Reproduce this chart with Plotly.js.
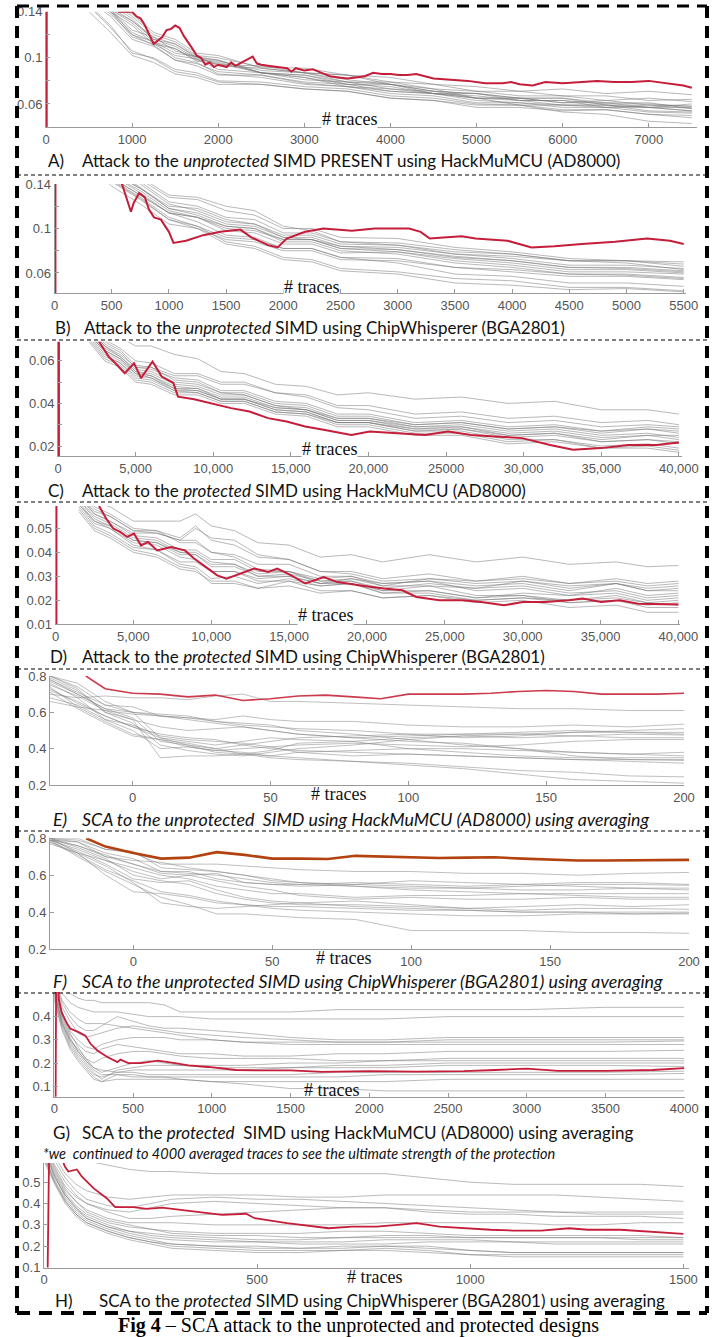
<!DOCTYPE html>
<html><head><meta charset="utf-8">
<script src="https://cdn.plot.ly/plotly-3.0.1.min.js"></script>
<style>html,body{margin:0;padding:0;background:#fff}#chart{width:718px;height:1337px}</style>
</head><body><div id="chart"></div>
<script>
// ---------------- DATA ----------------
// Panel A
const xA = [500,750,1000,1250,1500,1750,2000,2500,3000,3500,4000,4500,5000,5500,6000,6500,7000,7500];
const grayA = [
 [.150,.136,.116,.110,.098,.095,.088,.085,.079,.077,.071,.069,.065,.065,.061,.063,.059,.058],
 [.160,.140,.128,.112,.108,.098,.096,.087,.085,.079,.079,.073,.071,.067,.067,.063,.065,.062],
 [.152,.138,.120,.111,.098,.093,.085,.085,.078,.075,.069,.067,.061,.061,.057,.057,.053,.052],
 [.165,.146,.134,.116,.110,.099,.097,.089,.087,.081,.077,.071,.069,.065,.065,.061,.061,.056],
 [.145,.126,.106,.099,.088,.085,.079,.077,.073,.071,.065,.063,.059,.059,.055,.055,.051,.050],
 [.170,.148,.136,.120,.114,.102,.100,.092,.091,.085,.083,.077,.075,.071,.073,.069,.071,.068],
 [.155,.140,.118,.112,.102,.099,.090,.087,.081,.079,.073,.071,.065,.065,.061,.061,.057,.057],
 [.140,.122,.102,.096,.086,.083,.077,.077,.073,.071,.065,.063,.057,.057,.054,.055,.051,.048],
 [.162,.144,.132,.116,.112,.100,.098,.087,.083,.075,.073,.069,.069,.065,.065,.059,.057,.054],
 [.158,.142,.124,.118,.106,.101,.093,.091,.087,.085,.079,.077,.071,.071,.067,.067,.063,.064],
 [.146,.128,.104,.100,.090,.087,.080,.079,.075,.073,.067,.065,.060,.059,.053,.051,.045,.043],
 [.168,.146,.138,.122,.116,.104,.102,.091,.087,.079,.077,.071,.069,.063,.063,.057,.057,.054],
 [.152,.140,.122,.114,.100,.096,.086,.083,.077,.075,.071,.069,.063,.061,.059,.059,.054,.053],
 [.160,.142,.130,.114,.108,.097,.095,.087,.085,.077,.075,.069,.065,.059,.059,.057,.059,.056],
 [.156,.142,.120,.114,.104,.101,.094,.093,.087,.085,.077,.073,.065,.063,.059,.059,.057,.060],
 [.163,.142,.132,.118,.112,.101,.098,.087,.083,.077,.077,.069,.067,.063,.063,.060,.060,.058]
];
const redAx = [8,9,850,1000,1050,1100,1150,1200,1250,1300,1350,1400,1450,1500,1550,1600,1650,1700,1750,1800,1850,1900,1950,2000,2100,2150,2200,2300,2400,2450,2500,2600,2700,2800,2850,2900,3000,3100,3200,3300,3400,3500,3600,3700,3800,3900,4000,4100,4200,4300,4400,4500,4700,4900,5100,5300,5400,5500,5650,5800,6000,6200,6400,6600,6800,7000,7200,7400,7500];
const redAy = [0,0.5,0.14,0.14,0.136,0.134,0.128,0.12,0.112,0.115,0.118,0.124,0.125,0.128,0.126,0.119,0.114,0.108,0.102,0.1,0.094,0.096,0.092,0.094,0.092,0.096,0.093,0.097,0.101,0.095,0.094,0.093,0.092,0.091,0.088,0.091,0.089,0.09,0.087,0.084,0.083,0.082,0.083,0.084,0.087,0.086,0.086,0.085,0.085,0.086,0.084,0.082,0.081,0.08,0.078,0.078,0.079,0.077,0.076,0.079,0.078,0.079,0.08,0.079,0.079,0.08,0.078,0.076,0.074];

// Panel B
const xB = [250,500,750,1000,1250,1500,1750,2000,2250,2500,3000,3500,4000,4500,5000,5500];
const grayB = [
 [.170,.146,.130,.114,.110,.100,.098,.090,.090,.084,.083,.077,.075,.071,.071,.068],
 [.175,.153,.137,.118,.114,.104,.102,.092,.092,.084,.081,.074,.071,.065,.065,.062],
 [.165,.138,.122,.104,.100,.090,.088,.080,.080,.072,.071,.065,.063,.059,.059,.056],
 [.180,.158,.144,.128,.126,.116,.112,.100,.100,.092,.091,.083,.079,.073,.071,.066],
 [.172,.148,.132,.114,.106,.094,.092,.082,.082,.074,.069,.059,.057,.051,.051,.048],
 [.168,.144,.128,.110,.102,.088,.084,.074,.072,.064,.061,.055,.053,.047,.047,.044],
 [.178,.156,.142,.124,.120,.110,.108,.096,.096,.088,.087,.081,.077,.071,.071,.070],
 [.171,.148,.134,.116,.110,.098,.096,.086,.086,.078,.079,.073,.069,.063,.063,.060],
 [.166,.142,.126,.108,.102,.092,.090,.082,.082,.074,.073,.065,.061,.057,.057,.054],
 [.176,.154,.140,.122,.116,.106,.104,.094,.094,.086,.085,.077,.073,.067,.067,.064],
 [.174,.150,.136,.120,.118,.108,.104,.092,.090,.082,.079,.071,.067,.061,.061,.059],
 [.169,.145,.130,.114,.110,.102,.100,.088,.088,.080,.077,.069,.065,.059,.058,.055],
 [.182,.160,.146,.130,.128,.120,.116,.102,.098,.088,.085,.079,.077,.071,.069,.063],
 [.167,.143,.127,.108,.100,.086,.082,.072,.070,.062,.059,.051,.049,.045,.046,.043],
 [.173,.151,.136,.118,.112,.102,.100,.090,.090,.082,.081,.075,.071,.065,.064,.061]
];
const redBx = [8,9,590,668,692,740,790,826,870,930,1000,1040,1150,1300,1450,1624,1720,1867,1950,2030,2190,2350,2600,2800,2957,3100,3200,3280,3400,3560,3680,3960,4170,4370,4610,4900,5180,5380,5500];
const redBy = [0,0.5,0.14,0.115,0.123,0.132,0.128,0.117,0.11,0.108,0.097,0.087,0.089,0.094,0.097,0.099,0.092,0.085,0.083,0.091,0.097,0.1,0.098,0.1,0.1,0.1,0.097,0.091,0.092,0.093,0.091,0.089,0.083,0.084,0.086,0.088,0.091,0.089,0.086];

// Panel C
const xC = [2000,3000,4000,5000,6000,7500,9000,10500,12000,14000,16000,18000,20000,23000,26000,29000,32000,35000,38000,40000];
const grayC = [
 [.080,.073,.071,.067,.067,.063,.061,.055,.054,.049,.048,.044,.045,.042,.043,.040,.041,.037,.037,.035],
 [.075,.067,.063,.057,.057,.053,.053,.049,.049,.045,.044,.039,.039,.035,.036,.033,.034,.031,.032,.030],
 [.074,.065,.061,.055,.054,.049,.048,.044,.044,.039,.038,.033,.033,.029,.030,.027,.028,.025,.026,.024],
 [.072,.063,.059,.053,.052,.047,.046,.042,.042,.037,.036,.031,.031,.027,.028,.025,.026,.022,.023,.021],
 [.078,.069,.065,.058,.057,.051,.050,.045,.045,.040,.039,.034,.034,.030,.031,.028,.029,.026,.028,.026],
 [.070,.061,.058,.051,.050,.045,.045,.041,.041,.036,.035,.030,.030,.026,.026,.022,.023,.020,.021,.019],
 [.076,.067,.062,.056,.055,.050,.049,.045,.044,.039,.037,.032,.032,.029,.029,.026,.027,.024,.025,.023],
 [.073,.064,.060,.054,.053,.048,.047,.042,.042,.038,.037,.033,.033,.030,.031,.028,.029,.027,.029,.028],
 [.071,.062,.059,.052,.051,.046,.046,.042,.042,.037,.036,.031,.031,.027,.027,.023,.023,.019,.019,.017],
 [.077,.068,.064,.057,.056,.052,.051,.046,.046,.041,.040,.035,.035,.031,.032,.029,.030,.027,.028,.027],
 [.074,.066,.062,.055,.053,.047,.047,.043,.043,.038,.037,.032,.032,.028,.028,.024,.025,.022,.023,.022],
 [.072,.065,.061,.054,.052,.046,.045,.041,.041,.036,.035,.031,.031,.028,.029,.025,.026,.023,.025,.025],
 [.079,.070,.066,.060,.059,.054,.054,.050,.050,.045,.043,.038,.037,.033,.034,.031,.032,.029,.030,.029],
 [.069,.060,.057,.050,.049,.044,.044,.040,.040,.035,.034,.029,.029,.025,.025,.021,.022,.019,.020,.018]
];
const redCx = [60,61,2650,3260,3700,4300,4900,5350,6090,6680,7430,7730,8770,9960,11150,12340,13530,14730,15920,17110,18900,20080,21850,23650,25130,26610,28420,29900,31700,33180,34970,36760,38540,40000];
const redCy = [0,0.2,0.069,0.062,0.0589,0.0542,0.0589,0.0519,0.0597,0.0526,0.0496,0.0432,0.042,0.040,0.0378,0.0362,0.0331,0.0315,0.0292,0.0276,0.0252,0.0268,0.026,0.0252,0.0268,0.0252,0.0244,0.0237,0.0205,0.0182,0.019,0.0205,0.0205,0.0216];

// Panel D
const xD = [1500,2500,3500,5000,6500,8000,9000,10000,11500,13000,15000,17000,19000,21000,24000,27000,30000,33000,36000,38000,40000];
const grayD = [
 [.068,.061,.059,.053,.053,.053,.056,.051,.049,.044,.043,.038,.039,.036,.039,.036,.038,.035,.036,.034,.0345],
 [.064,.057,.055,.049,.048,.045,.050,.046,.045,.039,.037,.032,.031,.028,.029,.027,.028,.025,.027,.024,.025],
 [.062,.055,.052,.046,.045,.040,.039,.034,.034,.030,.031,.028,.029,.026,.029,.028,.030,.027,.029,.027,.028],
 [.060,.052,.050,.044,.043,.038,.037,.032,.032,.029,.030,.027,.028,.025,.027,.025,.026,.023,.024,.021,.022],
 [.058,.050,.047,.041,.039,.034,.033,.027,.027,.025,.028,.026,.027,.024,.026,.025,.028,.026,.027,.024,.024],
 [.066,.059,.056,.050,.049,.044,.044,.040,.039,.035,.035,.030,.030,.026,.026,.022,.022,.019,.020,.017,.017],
 [.061,.053,.050,.043,.041,.035,.034,.029,.030,.027,.029,.026,.027,.023,.023,.020,.021,.019,.020,.018,.019],
 [.063,.056,.053,.047,.046,.041,.041,.037,.037,.032,.032,.028,.028,.024,.024,.021,.023,.022,.025,.022,.023],
 [.059,.051,.048,.042,.041,.036,.036,.032,.032,.028,.028,.024,.024,.021,.022,.019,.020,.017,.018,.015,.015],
 [.065,.058,.055,.049,.049,.046,.051,.045,.043,.038,.037,.032,.032,.029,.031,.028,.029,.027,.028,.026,.027],
 [.062,.054,.051,.045,.044,.039,.039,.035,.035,.031,.032,.029,.030,.027,.028,.026,.027,.024,.027,.025,.026],
 [.057,.049,.046,.040,.038,.033,.032,.028,.028,.025,.026,.023,.024,.021,.022,.020,.021,.020,.022,.019,.020],
 [.060,.053,.051,.045,.044,.040,.040,.036,.035,.030,.030,.027,.029,.027,.028,.024,.025,.022,.023,.020,.021],
 [.064,.056,.053,.048,.048,.045,.045,.040,.038,.033,.032,.027,.027,.023,.024,.021,.022,.020,.021,.019,.018]
];
const redDx = [60,61,2820,3260,3710,4150,4600,5040,5490,5940,6530,7420,8310,8900,9800,10380,10980,11880,12760,13660,14240,15140,16040,17220,18100,19600,21080,22270,23170,24650,26130,27320,28800,30000,31460,32950,33840,35040,36230,37420,38900,40000];
const redDy = [0,0.2,0.059,0.054,0.0499,0.0485,0.0464,0.0478,0.0429,0.0443,0.0408,0.0422,0.0408,0.0374,0.0332,0.0304,0.029,0.031,0.0332,0.0318,0.0332,0.0304,0.027,0.0297,0.0276,0.0262,0.0249,0.0242,0.0214,0.02,0.02,0.0193,0.0179,0.0193,0.0193,0.02,0.0207,0.0193,0.02,0.0186,0.0186,0.0183];

// Panel E
const xE = [-30,-20,-10,0,10,20,30,40,50,60,80,100,120,140,160,180,200];
const grayE = [
 [.70,.68,.69,.68,.68,.67,.69,.70,.66,.66,.65,.64,.63,.62,.62,.61,.61],
 [.80,.74,.64,.63,.58,.57,.56,.58,.56,.55,.55,.53,.52,.52,.53,.52,.535],
 [.78,.70,.62,.60,.59,.58,.55,.53,.52,.51,.50,.48,.46,.47,.49,.50,.51],
 [.75,.69,.61,.56,.52,.50,.51,.52,.50,.48,.46,.47,.48,.49,.50,.49,.49],
 [.80,.76,.66,.60,.46,.42,.40,.42,.44,.46,.47,.48,.48,.48,.49,.49,.48],
 [.72,.66,.58,.52,.46,.44,.42,.44,.46,.45,.44,.46,.47,.46,.47,.48,.475],
 [.79,.72,.60,.54,.42,.39,.37,.36,.38,.40,.42,.45,.47,.48,.47,.46,.46],
 [.76,.68,.56,.50,.40,.41,.39,.40,.41,.42,.43,.42,.41,.42,.44,.45,.45],
 [.74,.63,.55,.48,.45,.43,.40,.37,.36,.38,.39,.40,.40,.39,.38,.37,.38],
 [.77,.70,.62,.57,.44,.42,.38,.37,.39,.43,.44,.40,.38,.36,.35,.35,.35],
 [.73,.65,.58,.52,.48,.46,.45,.42,.40,.39,.38,.37,.36,.35,.34,.34,.335],
 [.68,.64,.56,.53,.47,.45,.44,.43,.41,.38,.36,.37,.36,.35,.34,.33,.32],
 [.80,.73,.60,.56,.35,.36,.36,.37,.35,.34,.33,.32,.30,.28,.27,.25,.245],
 [.71,.62,.54,.47,.45,.41,.39,.38,.36,.35,.33,.31,.29,.26,.23,.22,.21],
 [.66,.63,.61,.59,.58,.57,.55,.54,.53,.50,.48,.45,.42,.40,.38,.37,.36],
 [.78,.71,.64,.60,.58,.56,.54,.52,.50,.48,.46,.44,.43,.40,.36,.34,.34]
];
const redEx = [-17,-10,0,10,20,30,40,50,60,70,80,90,100,110,120,130,140,150,160,170,180,190,200];
const redEy = [.80,.73,.705,.70,.685,.695,.665,.675,.69,.695,.685,.675,.70,.70,.70,.705,.715,.72,.715,.70,.70,.70,.705];

// Panel F
const xF = [-30,-20,-10,0,10,20,30,40,50,60,80,100,120,140,160,180,200];
const grayF = [
 [.80,.79,.74,.72,.66,.66,.66,.65,.64,.63,.62,.62,.61,.61,.60,.61,.615],
 [.80,.80,.74,.73,.64,.63,.62,.60,.57,.56,.55,.57,.56,.55,.56,.56,.55],
 [.79,.78,.72,.69,.62,.61,.60,.58,.56,.55,.54,.53,.53,.54,.55,.55,.545],
 [.80,.76,.70,.66,.61,.60,.61,.56,.55,.54,.55,.54,.53,.52,.52,.53,.52],
 [.79,.74,.68,.64,.60,.58,.54,.52,.50,.50,.48,.49,.49,.50,.50,.50,.50],
 [.78,.72,.68,.62,.58,.60,.57,.54,.52,.49,.47,.48,.47,.47,.48,.47,.47],
 [.80,.75,.69,.60,.57,.55,.50,.47,.45,.44,.44,.43,.42,.43,.44,.43,.44],
 [.79,.73,.66,.58,.56,.57,.52,.48,.46,.45,.46,.44,.42,.41,.42,.42,.415],
 [.80,.72,.65,.56,.45,.43,.42,.43,.44,.45,.43,.42,.41,.40,.40,.40,.40],
 [.78,.71,.63,.57,.51,.49,.46,.44,.43,.43,.42,.41,.41,.40,.40,.39,.395],
 [.77,.72,.60,.51,.50,.48,.45,.44,.42,.41,.40,.39,.38,.38,.39,.39,.39],
 [.79,.70,.62,.55,.48,.44,.39,.39,.38,.37,.36,.30,.30,.30,.29,.29,.285],
 [.80,.78,.70,.68,.67,.64,.62,.60,.58,.56,.54,.52,.51,.50,.49,.48,.48],
 [.79,.76,.71,.66,.62,.62,.58,.56,.55,.55,.56,.55,.54,.55,.54,.53,.53]
];
const redFx = [-17,-10,0,10,20,30,40,50,60,70,80,90,100,110,120,130,140,150,160,170,180,190,200];
const redFy = [.80,.755,.72,.69,.695,.725,.71,.69,.69,.688,.705,.70,.695,.693,.695,.697,.69,.685,.68,.68,.682,.682,.683];

// Panel G
const xG = [0,50,100,150,200,250,300,400,500,600,700,800,1000,1200,1500,1800,2100,2500,3000,3500,4000];
const grayG = [
 [.60,.52,.50,.48,.47,.47,.46,.46,.46,.46,.45,.42,.42,.42,.42,.43,.43,.43,.43,.44,.44],
 [.58,.50,.46,.44,.43,.42,.42,.42,.41,.40,.40,.40,.39,.39,.39,.39,.39,.40,.40,.40,.40],
 [.55,.46,.40,.36,.34,.34,.36,.40,.38,.36,.35,.35,.34,.33,.31,.30,.30,.31,.31,.31,.31],
 [.56,.44,.38,.33,.31,.32,.33,.35,.36,.35,.34,.33,.32,.31,.30,.29,.29,.30,.30,.30,.30],
 [.54,.42,.34,.30,.27,.26,.28,.30,.31,.31,.31,.30,.30,.29,.29,.29,.29,.29,.29,.29,.295],
 [.52,.40,.32,.28,.25,.24,.26,.28,.27,.26,.25,.24,.24,.23,.23,.24,.24,.25,.25,.25,.255],
 [.50,.38,.30,.26,.22,.20,.22,.24,.25,.25,.24,.23,.22,.22,.22,.21,.21,.22,.22,.22,.22],
 [.53,.41,.33,.27,.22,.18,.16,.18,.20,.21,.20,.19,.19,.19,.20,.20,.21,.21,.21,.21,.21],
 [.51,.37,.29,.24,.20,.16,.13,.17,.18,.19,.19,.19,.18,.18,.18,.19,.19,.20,.20,.20,.20],
 [.49,.36,.28,.23,.19,.15,.14,.16,.17,.17,.17,.17,.17,.17,.18,.18,.18,.19,.19,.19,.185],
 [.52,.39,.31,.25,.21,.18,.17,.16,.16,.15,.15,.15,.15,.15,.15,.16,.16,.16,.16,.16,.165],
 [.48,.35,.27,.22,.18,.14,.12,.15,.15,.14,.14,.14,.14,.14,.14,.14,.15,.15,.15,.15,.155],
 [.50,.37,.30,.25,.21,.17,.15,.15,.14,.14,.14,.13,.12,.12,.12,.12,.12,.13,.13,.13,.13],
 [.47,.34,.26,.21,.17,.13,.12,.13,.13,.13,.13,.13,.12,.11,.09,.09,.08,.08,.08,.08,.08],
 [.57,.47,.42,.39,.37,.37,.37,.36,.35,.34,.33,.32,.30,.29,.28,.28,.28,.28,.28,.28,.28]
];
const redGx = [8,12,30,48,80,101,154,198,230,273,337,401,420,470,551,658,766,852,980,1152,1300,1500,1700,2000,2300,2600,2800,3000,3200,3500,3800,4000];
const redGy = [0.0,0.6,0.47,0.416,0.371,0.349,0.333,0.318,0.283,0.254,0.226,0.204,0.215,0.2,0.2,0.21,0.2,0.19,0.183,0.17,0.168,0.168,0.162,0.165,0.163,0.165,0.17,0.176,0.166,0.166,0.17,0.178];

// Panel H
const xH = [0,25,50,75,100,150,200,250,300,400,500,600,700,800,900,1000,1100,1200,1300,1400,1500];
const grayH = [
 [.80,.72,.66,.62,.60,.58,.56,.55,.55,.54,.54,.54,.54,.54,.52,.50,.49,.49,.49,.49,.48],
 [.72,.62,.54,.49,.46,.43,.42,.43,.44,.44,.44,.43,.43,.44,.44,.44,.44,.44,.43,.42,.41],
 [.70,.60,.52,.46,.42,.39,.38,.40,.42,.43,.42,.42,.41,.40,.39,.38,.37,.36,.36,.36,.36],
 [.68,.57,.48,.43,.40,.37,.36,.38,.40,.41,.40,.39,.38,.38,.37,.36,.36,.36,.35,.35,.35],
 [.69,.58,.50,.44,.40,.36,.33,.33,.34,.35,.36,.37,.38,.38,.36,.35,.35,.34,.34,.34,.33],
 [.66,.55,.46,.41,.37,.33,.31,.31,.31,.30,.30,.30,.30,.31,.31,.31,.31,.30,.30,.31,.31],
 [.65,.54,.45,.39,.35,.31,.29,.28,.27,.26,.26,.26,.27,.27,.26,.25,.25,.25,.25,.25,.24],
 [.67,.56,.47,.41,.36,.32,.30,.28,.26,.25,.25,.24,.24,.25,.25,.24,.24,.24,.24,.23,.23],
 [.63,.52,.44,.38,.34,.30,.27,.25,.24,.23,.22,.22,.22,.23,.23,.23,.22,.22,.22,.22,.22],
 [.64,.53,.44,.38,.33,.29,.26,.24,.23,.22,.22,.21,.21,.21,.22,.22,.22,.21,.21,.21,.21],
 [.62,.51,.42,.36,.32,.28,.25,.23,.21,.20,.19,.19,.19,.20,.20,.18,.17,.17,.17,.17,.17],
 [.61,.50,.41,.35,.31,.27,.24,.22,.20,.19,.18,.18,.18,.19,.18,.16,.16,.16,.16,.16,.16],
 [.60,.49,.40,.34,.30,.26,.23,.21,.19,.18,.17,.17,.18,.18,.17,.16,.15,.15,.15,.15,.15],
 [.62,.50,.41,.35,.31,.27,.24,.22,.21,.20,.20,.19,.20,.20,.19,.18,.17,.17,.17,.17,.17],
 [.65,.53,.43,.37,.33,.29,.27,.26,.25,.24,.23,.23,.24,.24,.24,.24,.24,.24,.24,.24,.24]
];
const redHx = [8,13,40,49,57,77,89,116,147,167,210,241,277,353,418,474,494,570,635,668,722,780,830,874,928,983,1048,1102,1167,1232,1276,1352,1417,1460,1500];
const redHy = [0.0,0.8,0.62,0.573,0.55,0.56,0.526,0.472,0.425,0.383,0.383,0.375,0.381,0.362,0.347,0.352,0.331,0.308,0.292,0.284,0.292,0.292,0.30,0.308,0.292,0.284,0.277,0.273,0.273,0.284,0.277,0.277,0.269,0.264,0.258];

// Tick labels
const ytA = [0.06,0.08,0.1,0.12,0.14], ylA = ['0.06','','0.1','','0.14'];
const xtA = [0,1000,2000,3000,4000,5000,6000,7000], xlA = ['0','1000','2000','3000','4000','5000','6000','7000'];
const xtB = [0,500,1000,1500,2000,2500,3000,3500,4000,4500,5000,5500], xlB = ['0','500','1000','1500','2000','2500','3000','3500','4000','4500','5000','5500'];
const ytC = [0.02,0.03,0.04,0.05,0.06], ylC = ['0.02','','0.04','','0.06'];
const xtC = [0,5000,10000,15000,20000,25000,30000,35000,40000];
const xlC = ['0','5,000','10,000','15,000','20,000','25000','30,000','35,000','40,000'];
const xlD = ['0','5,000','10,000','15,000','20,000','25,000','30,000','35,000','40,000'];
const ytD = [0.01,0.02,0.03,0.04,0.05], ylD = ['0.01','0.02','0.03','0.04','0.05'];
const ytE = [0.2,0.4,0.6,0.8], ylE = ['0.2','0.4','0.6','0.8'];
const xtE = [0,50,100,150,200], xlE = ['0','50','100','150','200'];
const ytG = [0.1,0.2,0.3,0.4], ylG = ['0.1','0.2','0.3','0.4'];
const xtG = [0,500,1000,1500,2000,2500,3000,3500,4000], xlG = ['0','500','1000','1500','2000','2500','3000','3500','4000'];
const ytH = [0.1,0.2,0.3,0.4,0.5], ylH = ['0.1','0.2','0.3','0.4','0.5'];
const xtH = [0,500,1000,1500], xlH = ['0','500','1000','1500'];

const captions = [
 ['A)', 'Attack to the <i>unprotected</i> SIMD PRESENT using HackMuMCU (AD8000)'],
 ['B)', 'Attack to the <i>unprotected</i> SIMD using ChipWhisperer (BGA2801)'],
 ['C)', 'Attack to the <i>protected</i> SIMD using HackMuMCU (AD8000)'],
 ['D)', 'Attack to the <i>protected</i> SIMD using ChipWhisperer (BGA2801)'],
 ['<i>E)</i>', '<i>SCA to the unprotected  SIMD using HackMuMCU (AD8000) using averaging</i>'],
 ['<i>F)</i>', '<i>SCA to the unprotected SIMD using ChipWhisperer (BGA2801) using averaging</i>'],
 ['G)', 'SCA to the <i>protected</i>  SIMD using HackMuMCU (AD8000) using averaging'],
 ['H)', 'SCA to the <i>protected</i> SIMD using ChipWhisperer (BGA2801) using averaging']
];
const noteText = '<i>*we  continued to 4000 averaged traces to see the ultimate strength of the protection</i>';
const figCaption = '<b>Fig 4</b> – SCA attack to the unprotected and protected designs';
const xTitle = '# traces';

// ---------------- LAYOUT ----------------
const W = 718, H = 1337;
const fx = p => p / W, fy = p => 1 - p / H;

const panels = [
 {gx:xA, g:grayA, rx:redAx, ry:redAy, x0:46, x1:697, yt:11.7, yb:127, xr:[0,7560], yr:[0.04,0.14], yt_:ytA, yl:ylA, xt:xtA, xl:xlA, red:'#c41e3a', rw:2, gc:'rgba(115,115,115,0.5)', cap:[161,46,80], tt:[349,119], cs:17},
 {gx:xB, g:grayB, rx:redBx, ry:redBy, x0:54.5, x1:686, yt:184, yb:293, xr:[0,5520], yr:[0.042,0.14], yt_:ytA, yl:ylA, xt:xtB, xl:xlB, red:'#c41e3a', rw:2, gc:'rgba(115,115,115,0.5)', cap:[327,53,82], tt:[311,287], cs:17},
 {gx:xC, g:grayC, rx:redCx, ry:redCy, x0:58, x1:682, yt:341.7, yb:456, xr:[0,40200], yr:[0.0153,0.069], yt_:ytC, yl:ylC, xt:xtC, xl:xlC, red:'#c41e3a', rw:2, gc:'rgba(115,115,115,0.5)', cap:[490,46,80], tt:[329,449], cs:17},
 {gx:xD, g:grayD, rx:redDx, ry:redDy, x0:55.5, x1:680, yt:506, yb:624.3, xr:[0,40100], yr:[0.01,0.0593], yt_:ytD, yl:ylD, xt:xtC, xl:xlD, red:'#c41e3a', rw:2, gc:'rgba(115,115,115,0.5)', cap:[656,48,80], tt:[325,615], cs:17},
 {gx:xE, g:grayE, rx:redEx, ry:redEy, x0:50, x1:684, yt:676, yb:785, xr:[-30,200], yr:[0.2,0.8], yt_:ytE, yl:ylE, xt:xtE, xl:xlE, red:'#cc3a4e', rw:1.6, gc:'rgba(130,130,130,0.5)', cap:[819,51,80], tt:[338,794], cs:17.8},
 {gx:xF, g:grayF, rx:redFx, ry:redFy, x0:50, x1:689, yt:838.3, yb:949, xr:[-30,200], yr:[0.2,0.8], yt_:ytE, yl:ylE, xt:xtE, xl:xlE, red:'#b2420f', rw:2.6, gc:'rgba(130,130,130,0.5)', cap:[981,51,80], tt:[343,958], cs:17.8},
 {gx:xG, g:grayG, rx:redGx, ry:redGy, x0:54.3, x1:685, yt:992, yb:1096.7, xr:[0,4005], yr:[0.055,0.506], yt_:ytG, yl:ylG, xt:xtG, xl:xlG, red:'#c41e3a', rw:1.8, gc:'rgba(120,120,120,0.5)', cap:[1132,51,80], tt:[331,1090], cs:17},
 {gx:xH, g:grayH, rx:redHx, ry:redHy, x0:44, x1:688.5, yt:1163, yb:1267.5, xr:[0,1512], yr:[0.1,0.59], yt_:ytH, yl:ylH, xt:xtH, xl:xlH, red:'#c41e3a', rw:1.8, gc:'rgba(120,120,120,0.5)', cap:[1300,53,97], tt:[374,1277], cs:17}
];

const data = [];
const layout = {
  width: W, height: H, margin: {l:0, r:0, t:0, b:0},
  paper_bgcolor: '#fff', plot_bgcolor: 'rgba(0,0,0,0)', showlegend: false,
  annotations: [], shapes: []
};
const tickFont = {family: 'Liberation Sans, Arial, sans-serif', size: 13, color: '#555'};
const capFamily = 'Lato, Open Sans, sans-serif';

panels.forEach((p, i) => {
  const n = i === 0 ? '' : String(i + 1);
  const xa = 'x' + n, ya = 'y' + n;
  p.g.forEach(line => data.push({x: p.gx, y: line, xaxis: xa, yaxis: ya, mode: 'lines',
    line: {color: p.gc, width: 1}, hoverinfo: 'skip'}));
  data.push({x: p.rx, y: p.ry, xaxis: xa, yaxis: ya, mode: 'lines',
    line: {color: p.red, width: p.rw}, hoverinfo: 'skip'});
  layout['xaxis' + n] = {domain: [fx(p.x0), fx(p.x1)], range: p.xr, anchor: ya,
    showgrid: false, zeroline: false, showline: true, linecolor: '#9a9a9a', linewidth: 1,
    ticks: 'inside', ticklen: 4, tickcolor: '#9a9a9a', tickvals: p.xt, ticktext: p.xl,
    tickfont: tickFont, fixedrange: true};
  layout['yaxis' + n] = {domain: [fy(p.yb), fy(p.yt)], range: p.yr, anchor: xa,
    showgrid: false, zeroline: false, showline: true, linecolor: '#9a9a9a', linewidth: 1,
    ticks: 'inside', ticklen: 4, tickcolor: '#9a9a9a', tickvals: p.yt_, ticktext: p.yl,
    tickfont: tickFont, fixedrange: true};
  const capFont = {family: capFamily, size: p.cs, color: '#111'};
  layout.annotations.push({xref:'paper', yref:'paper', x: fx(p.cap[1]), y: fy(p.cap[0]),
    xanchor:'left', yanchor:'middle', text: captions[i][0], showarrow:false, font: capFont});
  layout.annotations.push({xref:'paper', yref:'paper', x: fx(p.cap[2]), y: fy(p.cap[0]),
    xanchor:'left', yanchor:'middle', text: captions[i][1], showarrow:false, font: capFont});
  layout.annotations.push({xref:'paper', yref:'paper', x: fx(p.tt[0]), y: fy(p.tt[1]),
    xanchor:'center', yanchor:'middle', text: xTitle, showarrow:false, bgcolor: i < 4 ? '#fff' : 'rgba(0,0,0,0)',
    borderpad: 0, font: {family: 'Liberation Serif, Times New Roman, serif', size: 18, color: '#111'}});
});

layout.annotations.push({xref:'paper', yref:'paper', x: fx(41), y: fy(1153), xanchor:'left', yanchor:'middle',
  text: noteText, showarrow:false, font: {family: capFamily, size: 14.5, color: '#111'}});
layout.annotations.push({xref:'paper', yref:'paper', x: fx(358), y: fy(1325), xanchor:'center', yanchor:'middle',
  text: figCaption, showarrow:false, font: {family: 'Liberation Serif, Times New Roman, serif', size: 20, color: '#000'}});

// frame
const thick = {color:'#000', width: 4, dash: '12px,8px'};
const thin = {color:'#000', width: 1.2, dash: '4px,3px'};
const L = 17, R = 707, T = 6, B = 1313;
layout.shapes.push({type:'line', xref:'paper', yref:'paper', x0:fx(L), x1:fx(L), y0:fy(T), y1:fy(B), line: thick});
layout.shapes.push({type:'line', xref:'paper', yref:'paper', x0:fx(R), x1:fx(R), y0:fy(T), y1:fy(B), line: thick});
layout.shapes.push({type:'line', xref:'paper', yref:'paper', x0:fx(L), x1:fx(R), y0:fy(T), y1:fy(T), line: {color:'#000', width: 3, dash:'12px,8px'}});
layout.shapes.push({type:'line', xref:'paper', yref:'paper', x0:fx(L), x1:fx(R), y0:fy(B), y1:fy(B), line: {color:'#000', width: 4, dash:'13px,9px'}});
[175, 340, 502, 669, 831, 993].forEach(y => layout.shapes.push({type:'line', xref:'paper', yref:'paper',
  x0: fx(L), x1: fx(R), y0: fy(y), y1: fy(y), line: thin}));

Plotly.newPlot('chart', data, layout, {staticPlot: true, displayModeBar: false});
</script></body></html>
